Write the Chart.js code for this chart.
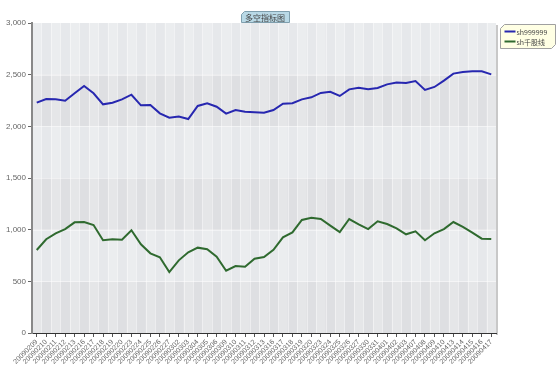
<!DOCTYPE html>
<html><head><meta charset="utf-8">
<script src="https://cdn.jsdelivr.net/npm/chart.js@4/dist/chart.umd.min.js"></script>
<style>html,body{margin:0;padding:0;background:#fff;}canvas{display:block;}</style>
</head><body>
<canvas id="c" width="560" height="384"></canvas>
<script>
const chartTitle = "多空指标图";
const categories = ["20090209","20090210","20090211","20090212","20090213","20090216","20090217","20090218","20090219","20090220","20090223","20090224","20090225","20090226","20090227","20090302","20090303","20090304","20090305","20090306","20090309","20090310","20090311","20090312","20090313","20090316","20090317","20090318","20090319","20090320","20090323","20090324","20090325","20090326","20090327","20090330","20090331","20090401","20090402","20090403","20090407","20090408","20090409","20090410","20090413","20090414","20090415","20090416","20090417"];
const seriesNames = ["sh999999", "sh千股线"];
const sh999999 = [2229,2265,2261,2248,2320,2390,2320,2213,2229,2261,2306,2203,2206,2126,2084,2094,2071,2197,2223,2190,2123,2158,2142,2136,2132,2158,2219,2223,2261,2281,2323,2335,2294,2358,2374,2358,2371,2406,2423,2419,2439,2352,2381,2442,2510,2526,2532,2532,2503];
const shQian = [803,907,965,1006,1071,1074,1045,897,907,903,994,858,771,733,590,703,781,826,810,739,603,648,642,719,735,805,926,974,1094,1116,1103,1039,977,1103,1052,1006,1081,1055,1013,955,984,897,965,1006,1074,1026,971,913,910];
const yTicks = [0,500,1000,1500,2000,2500,3000];

const bgPlugin = {
  id: 'bg',
  beforeDraw(chart) {
    const {ctx, chartArea: a, scales: {x, y}} = chart;
    ctx.save();
    for (let i = 0; i < yTicks.length - 1; i++) {
      const y0 = y.getPixelForValue(yTicks[i]), y1 = y.getPixelForValue(yTicks[i+1]);
      ctx.fillStyle = (i % 2 === 0) ? '#dedfe2' : '#e6e8eb';
      ctx.fillRect(a.left, y1, a.right - a.left, y0 - y1);
    }
    const w = (a.right - a.left) / categories.length;
    ctx.fillStyle = 'rgba(255,255,255,0.22)';
    for (let i = 0; i < categories.length; i += 2) {
      const cx = x.getPixelForValue(i);
      ctx.fillRect(cx - w/2, a.top, w, a.bottom - a.top);
    }
    ctx.strokeStyle = 'rgba(255,255,255,0.45)';
    ctx.lineWidth = 1;
    for (let i = 0; i <= categories.length; i++) {
      const xx = Math.round(a.left + i * w) + 0.5;
      ctx.beginPath(); ctx.moveTo(xx, a.top); ctx.lineTo(xx, a.bottom); ctx.stroke();
    }
    for (let i = 1; i < yTicks.length - 1; i++) {
      const yy = Math.round(y.getPixelForValue(yTicks[i])) + 0.5;
      ctx.beginPath(); ctx.moveTo(a.left, yy); ctx.lineTo(a.right, yy); ctx.stroke();
    }
    // right shadow
    ctx.fillStyle = '#c8c8c8';
    ctx.fillRect(a.right, a.top + 2, 2, a.bottom - a.top);
    ctx.restore();
  },
  afterDraw(chart) {
    const {ctx, chartArea: a} = chart;
    ctx.save();
    // title box
    ctx.font = '8px "Noto Sans CJK SC"';
    const tw = ctx.measureText(chartTitle).width;
    const cx = (a.left + a.right) / 2 + 1;
    const bx = Math.round(cx - tw/2 - 4) + 0.5, by = 11.5, bw = Math.round(tw + 8), bh = 11;
    ctx.beginPath();
    ctx.moveTo(bx + 3, by); ctx.lineTo(bx + bw, by); ctx.lineTo(bx + bw, by + bh);
    ctx.lineTo(bx, by + bh); ctx.lineTo(bx, by + 3); ctx.closePath();
    ctx.fillStyle = '#b9d9e6'; ctx.fill();
    ctx.strokeStyle = '#7f9fae'; ctx.lineWidth = 1; ctx.stroke();
    ctx.fillStyle = '#444'; ctx.textBaseline = 'middle'; ctx.textAlign = 'center';
    ctx.fillText(chartTitle, cx, by + bh/2 + 0.5);
    // legend box
    const lx = 500.5, ly = 24.5, lw = 55, lh = 24;
    ctx.beginPath();
    ctx.moveTo(lx + 4, ly); ctx.lineTo(lx + lw, ly); ctx.lineTo(lx + lw, ly + lh - 4);
    ctx.lineTo(lx + lw - 4, ly + lh); ctx.lineTo(lx, ly + lh); ctx.lineTo(lx, ly + 4); ctx.closePath();
    ctx.fillStyle = '#ffffe4'; ctx.fill();
    ctx.strokeStyle = '#a0a0a0'; ctx.stroke();
    ctx.font = '7px "Noto Sans CJK SC"'; ctx.textAlign = 'left';
    chart.data.datasets.forEach((d, i) => {
      const yy = ly + 7 + i * 10;
      ctx.strokeStyle = d.borderColor; ctx.lineWidth = 2;
      ctx.beginPath(); ctx.moveTo(lx + 4, yy); ctx.lineTo(lx + 15, yy); ctx.stroke();
      ctx.fillStyle = '#444';
      ctx.fillText(d.label, lx + 16, yy + 0.5);
    });
    ctx.restore();
  }
};

new Chart(document.getElementById('c'), {
  type: 'line',
  data: {
    labels: categories,
    datasets: [
      {label: seriesNames[0], data: sh999999, borderColor: '#2727b0', borderWidth: 2, pointRadius: 0, tension: 0, fill: false},
      {label: seriesNames[1], data: shQian, borderColor: '#2f6a2f', borderWidth: 2, pointRadius: 0, tension: 0, fill: false}
    ]
  },
  options: {
    responsive: false,
    animation: false,
    layout: {padding: {top: 23, right: 64, left: 0, bottom: 0}},
    plugins: {legend: {display: false}, title: {display: false}, tooltip: {enabled: false}},
    scales: {
      x: {
        offset: true,
        afterFit(s) { s.height = 51; },
        grid: {drawOnChartArea: false, tickLength: 4, color: '#555'},
        border: {color: '#333', width: 1},
        ticks: {autoSkip: false, maxRotation: 45, minRotation: 45, padding: 1, color: '#666', font: {family: 'Liberation Sans', size: 7}}
      },
      y: {
        min: 0, max: 3000,
        afterFit(s) { s.width = 32; },
        afterBuildTicks(s) { s.ticks = yTicks.map(v => ({value: v})); },
        grid: {drawOnChartArea: false, tickLength: 4, color: '#666'},
        border: {color: '#888', width: 2},
        ticks: {padding: 2, color: '#666', font: {family: 'Liberation Sans', size: 8},
          callback: v => v.toLocaleString('en-US')}
      }
    }
  },
  plugins: [bgPlugin]
});
</script>
</body></html>
